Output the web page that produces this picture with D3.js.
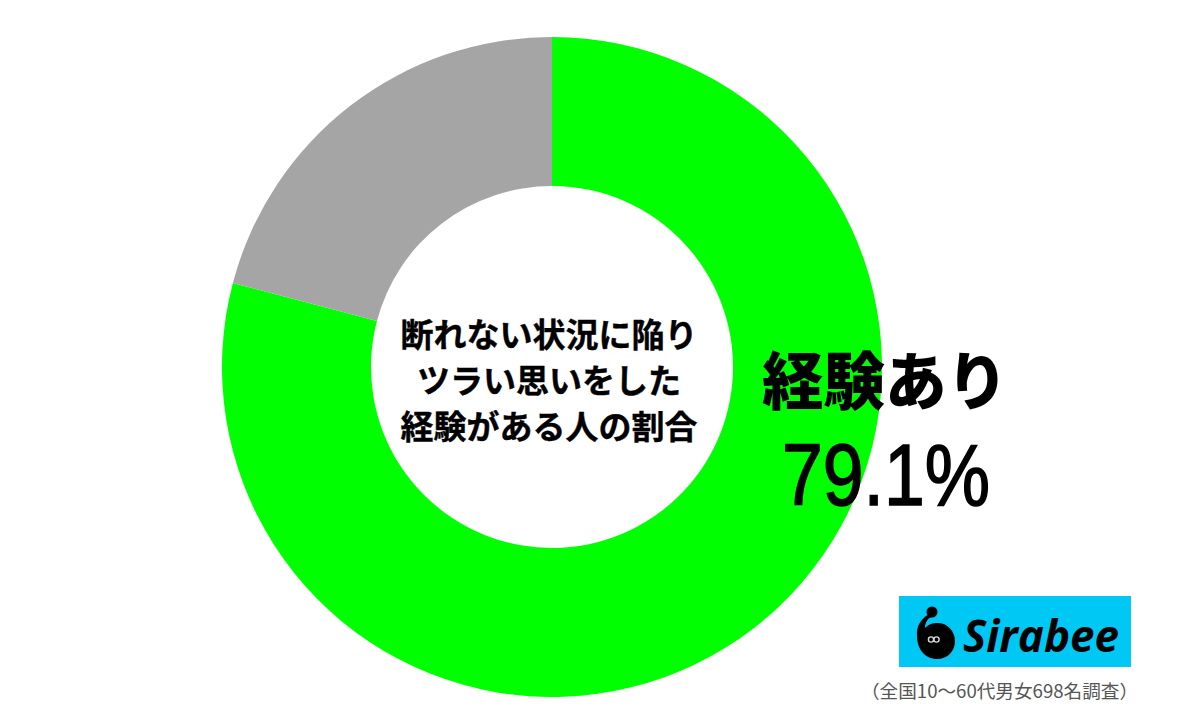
<!DOCTYPE html>
<html>
<head>
<meta charset="utf-8">
<script src="https://cdn.jsdelivr.net/npm/d3@7"></script>
<style>
  html, body { margin: 0; padding: 0; background: #fff; }
  svg { display: block; }
</style>
</head>
<body>
<svg id="chart" width="1200" height="727"></svg>
<script>
// ---- data ----
const categories = ["経験あり", "経験なし"];
const values = [79.1, 20.9];
const sliceColors = ["#00FF00", "#A5A5A5"];
const centerLines = ["断れない状況に陥り", "ツラい思いをした", "経験がある人の割合"];
const highlightLabel = "経験あり";
const highlightValue = "79.1%";
const footnote = "（全国10〜60代男女698名調査）";
const brand = "Sirabee";

const svg = d3.select("#chart");
svg.append("rect").attr("width", 1200).attr("height", 727).attr("fill", "#fff");

const cx = 552, cy = 367, rOuter = 330, rInner = 181;
const jp = "'Noto Sans CJK JP', 'Noto Sans CJK SC', sans-serif";

const pie = d3.pie().sort(null).value(d => d);
const arc = d3.arc().innerRadius(rInner).outerRadius(rOuter);
const color = d3.scaleOrdinal().domain(categories).range(sliceColors);

const g = svg.append("g").attr("transform", `translate(${cx},${cy})`);
g.selectAll("path")
  .data(pie(values))
  .join("path")
  .attr("d", arc)
  .attr("fill", (d, i) => color(categories[i]));

// center text
const lineYs = [333, 379, 425];
svg.append("g").selectAll("text")
  .data(centerLines)
  .join("text")
  .attr("x", 549)
  .attr("y", (d, i) => lineYs[i])
  .attr("text-anchor", "middle")
  .attr("dominant-baseline", "central")
  .attr("font-family", jp)
  .attr("font-weight", 700)
  .attr("font-size", 33)
  .attr("fill", "#000")
  .attr("stroke", "#000")
  .attr("stroke-width", 0.4)
  .text(d => d);

// highlight label
svg.append("text")
  .attr("x", 762).attr("y", 376)
  .attr("dominant-baseline", "central")
  .attr("font-family", jp)
  .attr("font-weight", 900)
  .attr("font-size", 63)
  .attr("textLength", 246)
  .attr("lengthAdjust", "spacingAndGlyphs")
  .attr("fill", "#000")
  .text(highlightLabel);

svg.append("text")
  .attr("x", 782).attr("y", 505)
  .attr("font-family", "'Liberation Sans', Arial, sans-serif")
  .attr("font-size", 88)
  .attr("textLength", 208)
  .attr("lengthAdjust", "spacingAndGlyphs")
  .attr("fill", "#000")
  .attr("stroke", "#000")
  .attr("stroke-width", 1.6)
  .text(highlightValue);

// logo
const logo = svg.append("g");
logo.append("rect")
  .attr("x", 899).attr("y", 596).attr("width", 232).attr("height", 71)
  .attr("fill", "#00C8F5");
// icon
logo.append("path")
  .attr("d", "M932,613 C922,616 916,626 917,636 C917,650 926,659 937,659 C948,659 955,651 955,641 C955,630 946,622 936,623 C931,623 927,626 925,628 C925,622 928,618 932,617 Z")
  .attr("fill", "#000");
logo.append("circle").attr("cx", 932).attr("cy", 612).attr("r", 5.5).attr("fill", "#000");
logo.append("circle").attr("cx", 931).attr("cy", 639.5).attr("r", 2.6).attr("fill", "none").attr("stroke", "#ddd").attr("stroke-width", 1.4);
logo.append("circle").attr("cx", 936.5).attr("cy", 639.5).attr("r", 2.6).attr("fill", "none").attr("stroke", "#ddd").attr("stroke-width", 1.4);
logo.append("text")
  .attr("x", 963).attr("y", 652)
  .attr("font-family", "'Open Sans', 'DejaVu Sans', sans-serif")
  .attr("font-weight", 700)
  .attr("font-style", "italic")
  .attr("font-size", 45)
  .attr("textLength", 156)
  .attr("lengthAdjust", "spacingAndGlyphs")
  .attr("fill", "#000")
  .text(brand);

// footnote
svg.append("text")
  .attr("x", 861).attr("y", 690)
  .attr("dominant-baseline", "central")
  .attr("font-family", jp)
  .attr("font-size", 18)
  .attr("textLength", 277)
  .attr("lengthAdjust", "spacingAndGlyphs")
  .attr("fill", "#555")
  .text(footnote);
</script>
</body>
</html>
